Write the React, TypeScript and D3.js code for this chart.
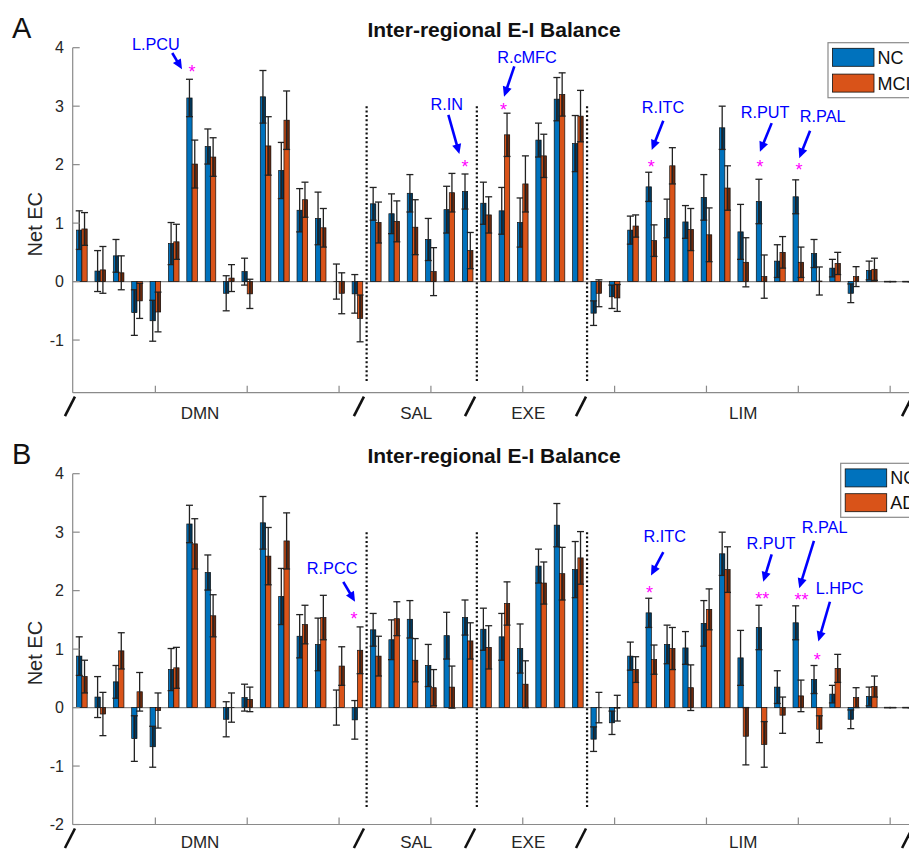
import React from 'react';
import * as d3 from 'd3';

// ---------- data ----------
const networkLabels = ['DMN', 'SAL', 'EXE', 'LIM'];
const groupPositions = d3.range(1, 47);

const ncValues = [0.88, 0.18, 0.44, -0.53, -0.67, 0.65, 3.14, 2.31, -0.2, 0.17, 3.16, 1.9, 1.22, 1.08, 0.0, -0.21,
  1.33, 1.16, 1.51, 0.72, 1.23, 1.54,
  1.34, 1.21, 1.01, 2.42, 3.12, 2.36,
  -0.54, -0.26, 0.88, 1.62, 1.08, 1.02, 1.44, 2.63, 0.85, 1.37, 0.35, 1.45, 0.48, 0.23, -0.2, 0.19, 0, 0];
const ncErrors = [0.33, 0.35, 0.28, 0.39, 0.35, 0.36, 0.32, 0.3, 0.3, 0.23, 0.45, 0.48, 0.37, 0.45, 0.3, 0.33,
  0.28, 0.34, 0.32, 0.36, 0.4, 0.3,
  0.36, 0.4, 0.42, 0.29, 0.37, 0.48,
  0.21, 0.2, 0.24, 0.25, 0.33, 0.28, 0.39, 0.37, 0.47, 0.38, 0.28, 0.29, 0.24, 0.15, 0.16, 0.16, 0, 0];

const mciValues = [0.9, 0.2, 0.15, -0.33, -0.52, 0.68, 2.01, 2.13, 0.06, -0.21, 2.32, 2.76, 1.4, 0.92, -0.2, -0.63,
  1.01, 1.03, 0.93, 0.17, 1.52, 0.53,
  1.14, 2.51, 1.67, 2.15, 3.2, 2.83,
  -0.2, -0.28, 0.95, 0.7, 1.98, 0.89, 0.8, 1.6, 0.33, 0.085, 0.5, 0.33, 0.01, 0.31, 0.085, 0.21, 0, 0];
const mciErrors = [0.28, 0.4, 0.29, 0.3, 0.34, 0.3, 0.41, 0.33, 0.23, 0.25, 0.5, 0.5, 0.3, 0.33, 0.35, 0.4,
  0.35, 0.35, 0.47, 0.41, 0.33, 0.31,
  0.31, 0.37, 0.48, 0.37, 0.37, 0.44,
  0.23, 0.23, 0.19, 0.27, 0.31, 0.36, 0.46, 0.38, 0.42, 0.37, 0.27, 0.26, 0.24, 0.19, 0.17, 0.19, 0, 0];

const adValues = [0.53, -0.11, 0.97, 0.27, -0.05, 0.68, 2.8, 1.57, 0.0, 0.14, 2.59, 2.85, 1.42, 1.54, 0.71, 0.98,
  0.88, 1.52, 0.81, 0.34, 0.35, 1.14,
  1.03, 1.78, 0.4, 2.13, 2.29, 2.56,
  0.0, -0.01, 0.65, 0.82, 1.01, 0.34, 1.68, 2.36, -0.49, -0.63, -0.13, 0.2, -0.37, 0.67, 0.17, 0.36, 0, 0];
const adErrors = [0.28, 0.37, 0.31, 0.33, 0.3, 0.35, 0.43, 0.36, 0.25, 0.21, 0.49, 0.48, 0.33, 0.38, 0.33, 0.4,
  0.34, 0.29, 0.37, 0.31, 0.36, 0.31,
  0.37, 0.37, 0.4, 0.36, 0.45, 0.45,
  0.26, 0.22, 0.22, 0.25, 0.36, 0.39, 0.35, 0.39, 0.49, 0.39, 0.31, 0.27, 0.23, 0.24, 0.17, 0.18, 0, 0];

const yTicksA = [-1, 0, 1, 2, 3, 4];
const yTicksB = [-2, -1, 0, 1, 2, 3, 4];
const xTicks = [5, 10, 15, 20, 25, 30, 35, 40, 45, 50];
const dividerPositions = [16.5, 22.5, 28.5];

const annotationsA = [
  { label: 'L.PCU', group: 7, stars: '*' },
  { label: 'R.IN', group: 22, stars: '*' },
  { label: 'R.cMFC', group: 24, stars: '*' },
  { label: 'R.ITC', group: 32, stars: '*' },
  { label: 'R.PUT', group: 38, stars: '*' },
  { label: 'R.PAL', group: 40, stars: '*' },
];
const annotationsB = [
  { label: 'R.PCC', group: 16, stars: '*' },
  { label: 'R.ITC', group: 32, stars: '*' },
  { label: 'R.PUT', group: 38, stars: '**' },
  { label: 'R.PAL', group: 40, stars: '**' },
  { label: 'L.HPC', group: 41, stars: '*' },
];

// ---------- layout (data coordinates: group position, value) ----------
const annoLayoutA = [
  { text: [5.03, 3.96], from: [5.92, 3.91], to: [6.45, 3.63], star: [0, 3.65] },
  { text: [20.86, 2.94], from: [20.95, 2.85], to: [21.55, 2.18], star: [-0.15, 2.03] },
  { text: [25.23, 3.74], from: [24.54, 3.68], to: [23.98, 3.16], star: [-0.05, 3.0] },
  { text: [32.63, 2.88], from: [32.65, 2.75], to: [32.02, 2.25], star: [0, 2.03] },
  { text: [38.19, 2.8], from: [38.55, 2.71], to: [37.91, 2.22], star: [-0.08, 2.03] },
  { text: [41.33, 2.73], from: [40.64, 2.58], to: [40.05, 2.11], star: [0.04, 1.97] },
];
const annoLayoutB = [
  { text: [14.62, 2.29], from: [15.23, 2.15], to: [15.87, 1.81], star: [-0.18, 1.58] },
  { text: [32.73, 2.83], from: [32.65, 2.66], to: [31.98, 2.26], star: [-0.1, 2.03] },
  { text: [38.51, 2.72], from: [38.55, 2.62], to: [38.09, 2.15], star: [0.04, 1.92] },
  { text: [41.43, 2.98], from: [40.85, 2.85], to: [40.05, 2.04], star: [0.18, 1.9] },
  { text: [42.25, 1.94], from: [41.72, 1.81], to: [41.09, 1.13], star: [0.03, 0.88] },
];
const networkLabelPos = [7.43, 19.2, 25.3, 37.0];
const slashPos = [0.35, 16.08, 22.13, 28.17, 45.92];

// ---------- styles ----------
const W = 909, H = 852;
const BLUE_BAR = '#0072BD';
const ORANGE_BAR = '#D95319';
const ANNO = '#0000FF';
const STAR = '#FF00FF';
const AXIS = '#8a8a8a';
const FONT = '"Liberation Sans", Arial, Helvetica, sans-serif';
const AXIS_LEFT = 72.7;
const STEP = 18.37;
const BAR_W = 5.3;
const CAP = 7;
const UNIT = 58.47;
const TOP = 47.7;

const x = d3.scaleLinear().domain([0.5, 49.5]).range([AXIS_LEFT, AXIS_LEFT + 49 * STEP]);

function Arrow({ x1, y1, x2, y2 }: any) {
  const dx = x2 - x1, dy = y2 - y1, L = Math.hypot(dx, dy);
  const ux = dx / L, uy = dy / L;
  const hl = 10, hw = 4.6;
  const bx = x2 - ux * hl, by = y2 - uy * hl;
  const pts = [[x2, y2], [bx - uy * hw, by + ux * hw], [bx + uy * hw, by - ux * hw]];
  return (
    <g>
      <line x1={x1} y1={y1} x2={bx + ux} y2={by + uy} stroke={ANNO} strokeWidth={2.6} />
      <polygon points={pts.map(p => p.join(',')).join(' ')} fill={ANNO} />
    </g>
  );
}

function Bar({ cx, v, e, color, y }: any) {
  const bx = cx - BAR_W / 2;
  const y0 = y(0), yv = y(v);
  const top = Math.min(y0, yv), h = Math.abs(y0 - yv);
  const lo = Math.min(0, v), hi = Math.max(0, v);
  const oLo = Math.max(lo, v - e), oHi = Math.min(hi, v + e);
  return (
    <g>
      <rect x={bx} y={top} width={BAR_W} height={Math.max(h, 0.01)} fill={color} stroke="#111" strokeWidth={0.7} />
      {oHi > oLo && (
        <rect x={bx + 1.6} y={y(oHi)} width={BAR_W - 1.6} height={y(oLo) - y(oHi)} fill="#000" opacity={0.5} />
      )}
      <line x1={cx} x2={cx} y1={y(v + e)} y2={y(v - e)} stroke="#222" strokeWidth={1.3} />
      <line x1={cx - CAP / 2} x2={cx + CAP / 2} y1={y(v + e)} y2={y(v + e)} stroke="#222" strokeWidth={1.3} />
      <line x1={cx - CAP / 2} x2={cx + CAP / 2} y1={y(v - e)} y2={y(v - e)} stroke="#222" strokeWidth={1.3} />
    </g>
  );
}

function Panel({ offY, yMin, yTicks, letter, compName, compValues, compErrors, annos, layout, legendX, legendY, legendH }: any) {
  const bottom = TOP + (4 - yMin) * UNIT;
  const y = d3.scaleLinear().domain([yMin, 4]).range([bottom, TOP]);
  const labelBase = Math.min(bottom + 26, H - offY - 4.2);
  return (
    <g transform={`translate(0,${offY})`} fontFamily={FONT}>
      <text x={12} y={38} fontSize={29} fill="#111">{letter}</text>
      <text x={494} y={37.3} fontSize={21} fontWeight="bold" textAnchor="middle" fill="#111">Inter-regional E-I Balance</text>

      {/* zero baseline */}
      <line x1={AXIS_LEFT} x2={W} y1={y(0)} y2={y(0)} stroke={AXIS} strokeWidth={1.2} />

      {/* bars */}
      {groupPositions.map((g, i) => (
        <g key={g}>
          <Bar cx={x(g) - BAR_W / 2} v={ncValues[i]} e={ncErrors[i]} color={BLUE_BAR} y={y} />
          <Bar cx={x(g) + BAR_W / 2} v={compValues[i]} e={compErrors[i]} color={ORANGE_BAR} y={y} />
        </g>
      ))}

      {/* dotted dividers */}
      {dividerPositions.map(p => (
        <line key={p} x1={x(p)} x2={x(p)} y1={y(3.0)} y2={y(-1.72)} stroke="#111" strokeWidth={2.2} strokeDasharray="2,2.4" />
      ))}

      {/* axes */}
      <line x1={AXIS_LEFT} x2={AXIS_LEFT} y1={TOP} y2={bottom} stroke={AXIS} strokeWidth={1.2} />
      <line x1={AXIS_LEFT} x2={W} y1={bottom} y2={bottom} stroke={AXIS} strokeWidth={1.2} />
      {yTicks.map((t: number) => (
        <g key={t}>
          <line x1={AXIS_LEFT} x2={AXIS_LEFT + 7} y1={y(t)} y2={y(t)} stroke={AXIS} strokeWidth={1.2} />
          <text x={64} y={y(t) + 5.6} fontSize={16} textAnchor="end" fill="#262626">{t}</text>
        </g>
      ))}
      {xTicks.map(t => (
        <line key={t} x1={x(t)} x2={x(t)} y1={bottom} y2={bottom - 7} stroke={AXIS} strokeWidth={1.2} />
      ))}
      <text transform={`translate(42,${(TOP + bottom) / 2 + 4}) rotate(-90)`} fontSize={20} textAnchor="middle" fill="#262626">Net EC</text>

      {/* network labels */}
      {networkLabels.map((n, i) => (
        <text key={n} x={x(networkLabelPos[i])} y={labelBase} fontSize={17} textAnchor="middle" fill="#262626">{n}</text>
      ))}
      {slashPos.map(p => (
        <line key={p} x1={x(p) + 5} x2={x(p) - 5} y1={bottom + 4} y2={bottom + 23.5} stroke="#111" strokeWidth={2.6} />
      ))}

      {/* annotations */}
      {annos.map((a: any, i: number) => {
        const L = layout[i];
        return (
          <g key={a.label + i}>
            <text x={x(L.text[0])} y={y(L.text[1])} fontSize={16.3} textAnchor="middle" fill={ANNO}>{a.label}</text>
            <Arrow x1={x(L.from[0])} y1={y(L.from[1])} x2={x(L.to[0])} y2={y(L.to[1])} />
            <text x={x(a.group + L.star[0])} y={y(L.star[1]) + 10} fontSize={18} textAnchor="middle" fill={STAR}>{a.stars}</text>
          </g>
        );
      })}

      {/* legend */}
      <g>
        <rect x={legendX} y={legendY} width={140} height={legendH} fill="#fff" stroke="#8a8a8a" strokeWidth={1.2} />
        <rect x={legendX + 4.5} y={legendY + 5.6} width={41.5} height={18} fill={BLUE_BAR} stroke="#111" strokeWidth={0.8} />
        <rect x={legendX + 4.5} y={legendY + legendH - 23.6} width={41.5} height={18} fill={ORANGE_BAR} stroke="#111" strokeWidth={0.8} />
        <text x={legendX + 49.5} y={legendY + 5.6 + 15.5} fontSize={18} fill="#111">NC</text>
        <text x={legendX + 49.5} y={legendY + legendH - 23.6 + 15.5} fontSize={18} fill="#111">{compName}</text>
      </g>
    </g>
  );
}

export default function App() {
  return (
    <div style={{ position: 'absolute', left: 0, top: 0 }}>
      <svg width={W} height={H} viewBox={`0 0 ${W} ${H}`} style={{ display: 'block', background: '#fff' }}>
        <rect x={0} y={0} width={W} height={H} fill="#fff" />
        <Panel offY={0} yMin={-1.9} yTicks={yTicksA} letter="A" compName="MCI"
          compValues={mciValues} compErrors={mciErrors} annos={annotationsA} layout={annoLayoutA}
          legendX={828} legendY={42.7} legendH={55} />
        <Panel offY={426} yMin={-2} yTicks={yTicksB} letter="B" compName="AD"
          compValues={adValues} compErrors={adErrors} annos={annotationsB} layout={annoLayoutB}
          legendX={840.7} legendY={37.3} legendH={54} />
      </svg>
    </div>
  );
}
